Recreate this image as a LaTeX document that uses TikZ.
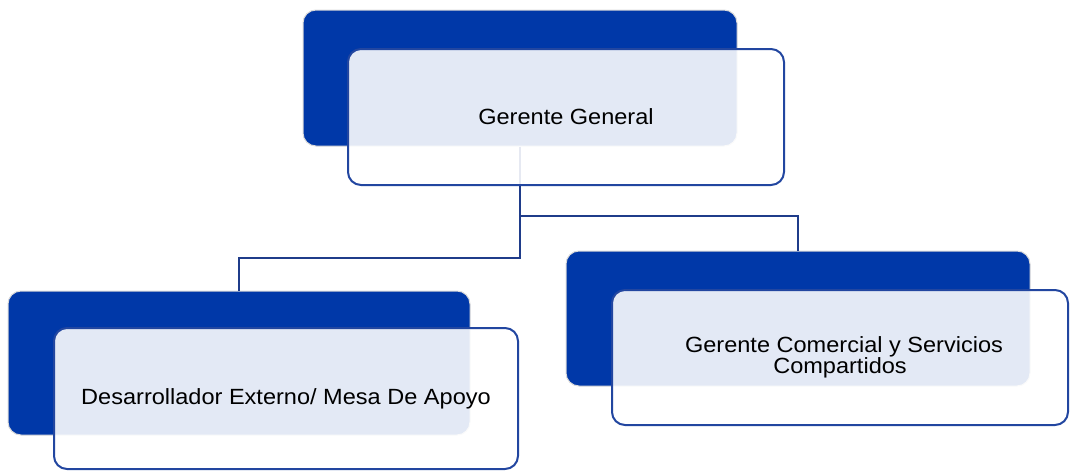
\documentclass[tikz,border=0pt]{standalone}
\usepackage{fontspec}
\setmainfont[FakeStretch=1.07]{Liberation Sans}
\definecolor{backblue}{HTML}{0038A8}
\definecolor{edgeblue}{HTML}{2246A0}
\definecolor{connblue}{HTML}{1F3C8A}
\begin{document}
\begin{tikzpicture}[x=1pt,y=-1pt,
  backbox/.style={rectangle, rounded corners=13pt, fill=backblue, draw=black!15, line width=1pt, inner sep=0pt},
  frontbox/.style={rectangle, rounded corners=13pt, fill=white, fill opacity=0.89, text opacity=1, draw=edgeblue, draw opacity=1, line width=2pt, inner sep=0pt, align=center, font=\fontsize{22}{21}\selectfont, text=black},
  conn/.style={draw=connblue, line width=2.4pt}]
\useasboundingbox (0,0) rectangle (1070,471);
% back boxes
\node[backbox, minimum width=434pt, minimum height=136pt] (gb) at (520,78) {};
\node[backbox, minimum width=462pt, minimum height=144pt] (lb) at (239,363) {};
\node[backbox, minimum width=464pt, minimum height=135pt] (rb) at (798,318.5) {};
% connectors
\coordinate (ja) at (520,216);
\coordinate (jb) at (520,258);
\draw[conn] (gb.south) -- (ja) -| (rb.north);
\draw[conn] (ja) -- (jb) -| (lb.north);
% front boxes
\node[frontbox, minimum width=436pt, minimum height=136pt] (gf) at (566,117) {Gerente General};
\node[frontbox, minimum width=464pt, minimum height=141pt] (lf) at (286,398.5) {Desarrollador Externo/ Mesa De Apoyo};
\node[frontbox, minimum width=456pt, minimum height=135pt] (rf) at (840,357.5) {\hspace*{8pt}Gerente Comercial y Servicios\\Compartidos};
\end{tikzpicture}
\end{document}
